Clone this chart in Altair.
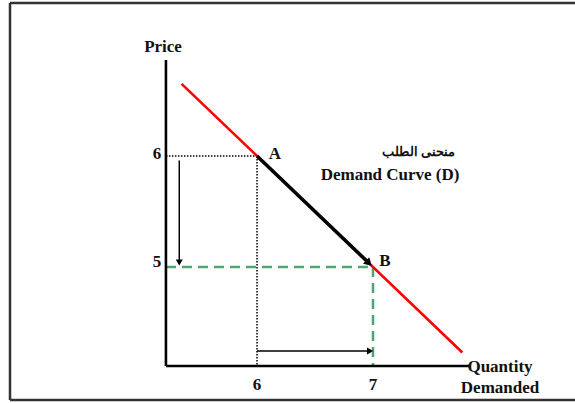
import altair as alt
import pandas as pd

# Demand schedule (P = 12 - Q) and the two marked points
curve_q = [5.35, 7.77]
curve_p = [6.65, 4.23]
point_q = [6, 7]
point_p = [6, 5]
point_names = ["A", "B"]

# Axis extents in data units
origin_q, origin_p = 5.215, 4.108
axis_end_q, axis_end_p = 7.836, 6.865

tick_q = [6, 7]
tick_q_labels = ["6", "7"]
tick_p = [5, 6]
tick_p_labels = ["5", "6"]

SERIF = "Liberation Serif, Times New Roman, DejaVu Serif, serif"
xs = alt.Scale(domain=[5, 8], range=[141, 489])
ys = alt.Scale(domain=[4, 7], range=[378, 45])


def seg(q1, p1, q2, p2):
    return pd.DataFrame({"q": [q1], "p": [p1], "q2": [q2], "p2": [p2]})


def rule(df, **mark):
    return alt.Chart(df).mark_rule(**mark).encode(
        x=alt.X("q:Q", scale=xs, axis=None),
        y=alt.Y("p:Q", scale=ys, axis=None),
        x2="q2:Q",
        y2="p2:Q",
    )


def head(q, p, shape, angle=0, size=70):
    return alt.Chart(pd.DataFrame({"q": [q], "p": [p]})).mark_point(
        shape=shape, angle=angle, filled=True, size=size, color="black", opacity=1
    ).encode(x=alt.X("q:Q", scale=xs, axis=None), y=alt.Y("p:Q", scale=ys, axis=None))


def label(q, p, text, size=17, **kw):
    return alt.Chart(pd.DataFrame({"q": [q], "p": [p], "t": [text]})).mark_text(
        font=SERIF, fontWeight="bold", fontSize=size, color="#111", **kw
    ).encode(x=alt.X("q:Q", scale=xs, axis=None), y=alt.Y("p:Q", scale=ys, axis=None), text="t:N")


one = alt.Data(values=[{}])
frame = [
    alt.Chart(one).mark_rule(color="#333", strokeWidth=2.5).encode(
        x=alt.value(10), x2=alt.value(575), y=alt.value(3)),
    alt.Chart(one).mark_rule(color="#333", strokeWidth=2.5).encode(
        x=alt.value(10), y=alt.value(3), y2=alt.value(400)),
    alt.Chart(one).mark_rule(color="#333", strokeWidth=2.5).encode(
        x=alt.value(10), x2=alt.value(575), y=alt.value(400)),
]

# Guide lines from the axes to A (dotted) and to B (dashed green)
dotted = dict(color="black", strokeWidth=1.5, strokeDash=[1.5, 1.5])
green = dict(color="#4aa672", strokeWidth=2.5, strokeDash=[10, 6])
guides = [
    rule(seg(origin_q, point_p[0], point_q[0], point_p[0]), **dotted),
    rule(seg(point_q[0], point_p[0], point_q[0], origin_p), **dotted),
    rule(seg(origin_q, point_p[1], point_q[1], point_p[1]), **green),
    rule(seg(point_q[1], point_p[1], point_q[1], origin_p), **green),
]

curve = rule(seg(curve_q[0], curve_p[0], curve_q[1], curve_p[1]), color="#ff0000", strokeWidth=2.6)

# Movement along the curve from A to B
move = [
    rule(seg(point_q[0], point_p[0], 6.965, 5.035), color="black", strokeWidth=3.5),
    head(6.965, 5.035, "triangle-right", angle=44, size=80),
]

# Price falls 6 -> 5, quantity rises 6 -> 7
arrows = [
    rule(seg(5.33, 5.96, 5.33, 5.06), color="black", strokeWidth=1.5),
    head(5.33, 5.04, "triangle-down", size=50),
    rule(seg(point_q[0], 4.243, 6.96, 4.243), color="black", strokeWidth=1.5),
    head(6.975, 4.243, "triangle-right", size=50),
]

axes = [
    rule(seg(origin_q, origin_p, origin_q, axis_end_p), color="black", strokeWidth=2.6),
    rule(seg(origin_q, origin_p, axis_end_q, origin_p), color="black", strokeWidth=2.6),
]

texts = [
    label(5.19, 6.98, "Price"),
    label(7.39, 6.04, "منحنى الطلب", size=13),
    label(7.147, 5.83, "Demand Curve (D)"),
    label(8.095, 4.10, "Quantity"),
    label(8.095, 3.91, "Demanded"),
    label(point_q[0], point_p[0], point_names[0], dx=18, dy=-2),
    label(point_q[1], point_p[1], point_names[1], dx=12, dy=-6),
]
for q, t in zip(tick_q, tick_q_labels):
    texts.append(label(q, origin_p, t, dy=19))
for p, t, d in zip(tick_p, tick_p_labels, [-5, -2]):
    texts.append(label(origin_q, p, t, dx=-9, dy=d))

chart = alt.layer(*frame, *guides, curve, *move, *arrows, *axes, *texts).properties(
    width=575, height=403, padding=0, autosize=alt.AutoSizeParams(type="none")
).configure_view(stroke=None)

chart.save("out.html", embed_options={"renderer": "svg", "actions": False})
